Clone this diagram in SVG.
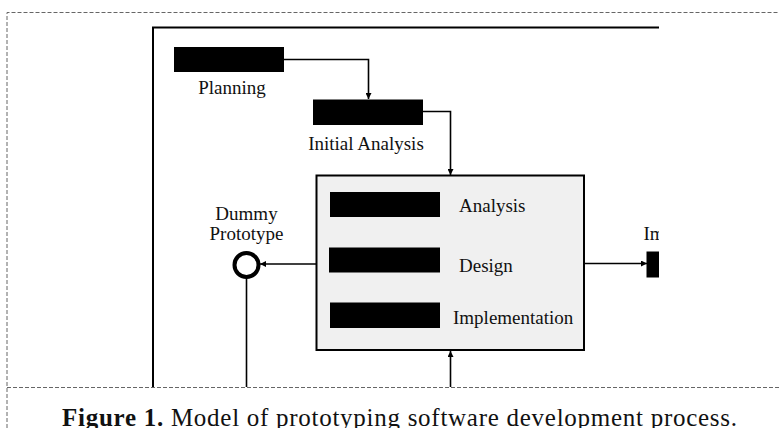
<svg xmlns="http://www.w3.org/2000/svg" width="779" height="428" viewBox="0 0 779 428">
  <style>
    .lbl { font-family: "Liberation Serif", "Times New Roman", serif; font-size: 19px; fill: #111; }
    .bar { fill: #000; }
    .wire { fill: none; stroke: #000; stroke-width: 1.6; }
    .frame { fill: none; stroke: #666; stroke-width: 1; stroke-dasharray: 4 2; }
  </style>
  <defs>
    <marker id="arrow" viewBox="0 0 6 6" refX="6" refY="3" markerWidth="6" markerHeight="6" markerUnits="userSpaceOnUse" orient="auto">
      <path d="M0,0 L6,3 L0,6 z" fill="#000"/>
    </marker>
    <clipPath id="crop">
      <rect x="0" y="0" width="659" height="428"/>
    </clipPath>
  </defs>

  <rect width="779" height="428" fill="#fff"/>

  <!-- dashed figure frame -->
  <path class="frame" d="M7,428 V12.5 H779"/>
  <path class="frame" d="M7,387.5 H779"/>

  <!-- outer process boundary -->
  <path d="M153,387 V27.5 H659" fill="none" stroke="#000" stroke-width="2"/>

  <g id="connectors">
    <path class="wire" d="M284,59.5 H368.5 V99" marker-end="url(#arrow)"/>
    <path class="wire" d="M423,111.5 H450.5 V175" marker-end="url(#arrow)"/>
    <path class="wire" d="M316,264 H260" marker-end="url(#arrow)"/>
    <path class="wire" d="M246.5,278 V387"/>
    <path class="wire" d="M450.5,387 V351" marker-end="url(#arrow)"/>
    <path class="wire" d="M585,263.5 H647" marker-end="url(#arrow)"/>
  </g>

  <g id="planning">
    <rect class="bar" x="174" y="47" width="110" height="25"/>
    <text class="lbl" x="232" y="94" text-anchor="middle">Planning</text>
  </g>

  <g id="initial-analysis">
    <rect class="bar" x="313" y="99.5" width="110" height="25.5"/>
    <text class="lbl" x="366" y="150" text-anchor="middle">Initial Analysis</text>
  </g>

  <g id="iteration">
    <rect x="316.5" y="175.5" width="267.5" height="174.5" fill="#f0f0f0" stroke="#000" stroke-width="2"/>
    <rect class="bar" x="330" y="192" width="110" height="25"/>
    <text class="lbl" x="459" y="212">Analysis</text>
    <rect class="bar" x="329" y="247.5" width="111" height="25"/>
    <text class="lbl" x="459" y="272">Design</text>
    <rect class="bar" x="330" y="302.5" width="110" height="25.5"/>
    <text class="lbl" x="453" y="323.5">Implementation</text>
  </g>

  <g id="dummy-prototype">
    <text class="lbl" x="246.5" y="219.5" text-anchor="middle">Dummy</text>
    <text class="lbl" x="246.5" y="239.5" text-anchor="middle">Prototype</text>
    <circle cx="246.5" cy="265" r="12" fill="#fff" stroke="#000" stroke-width="4"/>
  </g>

  <g id="implementation-out" clip-path="url(#crop)">
    <text class="lbl" x="643.5" y="239.5">Implementation</text>
    <rect class="bar" x="646.5" y="251.5" width="20" height="26"/>
  </g>

  <text x="62" y="426" textLength="675" lengthAdjust="spacing" font-family="'Liberation Serif', 'Times New Roman', serif" font-size="25" fill="#111"><tspan font-weight="bold">Figure 1.</tspan> Model of prototyping software development process.</text>
</svg>
